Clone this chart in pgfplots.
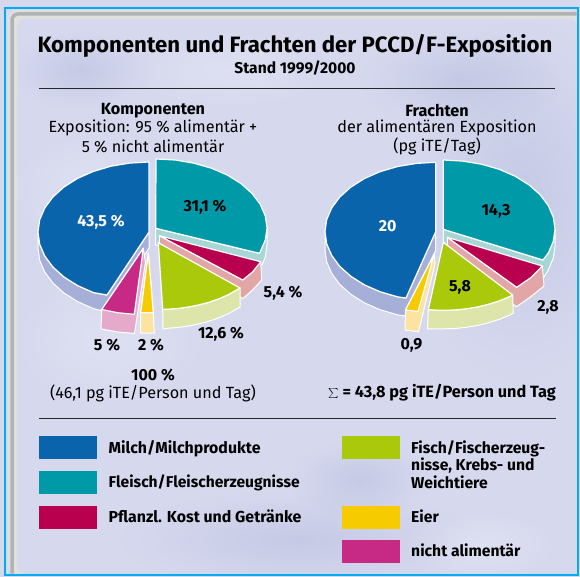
\documentclass[border=0pt]{standalone}
\usepackage{pgfplots}
\pgfplotsset{compat=1.18}
\usepackage{fontspec}
\setmainfont{Fira Sans}
\usetikzlibrary{fadings}
\tikzfading[name=soft,inner color=transparent!0,outer color=transparent!100]
\definecolor{cBlue}{HTML}{0A64AC}\definecolor{cTeal}{HTML}{0099A8}\definecolor{cCrim}{HTML}{B8004F}
\definecolor{cGreen}{HTML}{A9C90A}\definecolor{cYel}{HTML}{F6CB00}\definecolor{cMag}{HTML}{C62A85}
\definecolor{sBlue}{HTML}{A5AFD8}\definecolor{sTeal}{HTML}{A8D5D6}\definecolor{sCrim}{HTML}{E3A6A6}
\definecolor{sGreen}{HTML}{DDE5AA}\definecolor{sYel}{HTML}{FDE3A0}\definecolor{sMag}{HTML}{E5AAC9}
\definecolor{bg}{HTML}{D6D9EE}\definecolor{bgd}{HTML}{BFC3E2}\definecolor{bgl}{HTML}{E2E4F4}
\definecolor{edge}{HTML}{00AEEF}
\newcommand{\T}[4]{\node[anchor=center,inner sep=0pt,#1] at (axis cs:#2) {#3#4};}
\newcommand{\blob}[4]{\fill[#4,path fading=soft,fill opacity=.7] (axis cs:#1) ellipse [x radius=#2pt,y radius=#3pt];}
\newcommand{\fs}[1]{\fontsize{#1}{#1}\selectfont}
\begin{document}
\begin{tikzpicture}
\begin{axis}[scale only axis,width=580pt,height=577pt,xmin=0,xmax=580,ymin=0,ymax=577,y dir=reverse,
  axis lines=none,ticks=none,no markers,
  wedge/.style={draw=white,line width=1.2pt,line join=round,fill=#1},
  face/.style={draw=white,line width=1pt,line join=round,fill=#1}]
% background
\fill[bg] (axis cs:0,0) rectangle (axis cs:580,577);
% frame
\draw[edge,line width=2pt] (axis cs:5,8) rectangle (axis cs:577.5,574.5);
\fill[rounded corners=9pt,white!88!black] (axis cs:8,573.5)--(axis cs:8,10)--(axis cs:576.5,10)--(axis cs:576.5,30)--(axis cs:30,30)--(axis cs:30,573.5)--cycle;
\draw[rounded corners=6pt,white!70!black,line width=3.5pt] (axis cs:12,573.5)--(axis cs:12,14)--(axis cs:576.5,14);
\fill[rounded corners=7pt,bg] (axis cs:17.5,573.5)--(axis cs:17.5,19)--(axis cs:576.5,19)--(axis cs:576.5,573.5)--cycle;
\begin{scope}
\clip (axis cs:17.5,19) rectangle (axis cs:576.5,573.5);
\blob{520,200}{110}{180}{bgd}
\blob{80,70}{70}{40}{bgd}
\blob{110,340}{100}{70}{bgl}
\blob{300,540}{180}{50}{bgd}
\blob{360,480}{70}{40}{bgd}
\blob{90,190}{80}{60}{bgl}
\blob{230,70}{100}{40}{bgl}
\blob{460,80}{100}{50}{bgd}
\blob{480,545}{80}{35}{bgl}
\end{scope}
% rules
\draw[black!85,line width=.9pt] (axis cs:39,88) -- (axis cs:555,88);
\draw[black!85,line width=.9pt] (axis cs:39,418.5) -- (axis cs:555.5,418.5);
% ---- left pie ----
\addplot[face=sBlue] coordinates {(38,232)(39.7,244.2)(44.7,255.9)(52.9,267)(64,277)(77.6,285.6)(93.5,292.6)(107,295)(149,232)(149,248)(107,312)(93.5,308.6)(77.6,301.6)(64,293)(52.9,283)(44.7,271.9)(39.7,260.2)(38,248)} -- cycle;
\addplot[wedge=cBlue] coordinates {(149,232)(149,162)(129.7,163.1)(111,166.2)(93.5,171.4)(77.6,178.4)(64,187)(52.9,197)(44.7,208.1)(39.7,219.8)(38,232)(39.7,244.2)(44.7,255.9)(52.9,267)(64,277)(77.6,285.6)(93.5,292.6)(107,295)} -- cycle;
\addplot[face=sTeal] coordinates {(155.7,228.3)(259.3,253.3)(260.3,251.6)(265.3,240)(267,228)(267,245)(265.3,257)(262,265)(155.7,245)} -- cycle;
\addplot[wedge=cTeal] coordinates {(155.7,228.3)(156,159)(175.3,160)(194,163.2)(211.5,168.2)(227.4,175.1)(241,183.6)(252.1,193.5)(260.3,204.4)(265.3,216)(267,228)(265.3,240)(260.3,251.6)(259.3,253.3)} -- cycle;
\addplot[face=sCrim] coordinates {(159.3,235.7)(242.7,280)(252.5,272)(260.7,261.7)(261.7,280)(252.5,290)(243,298.5)(159.3,254)} -- cycle;
\addplot[wedge=cCrim] coordinates {(159.3,235.7)(260.7,261.7)(252.5,272)(242.7,280)} -- cycle;
\addplot[face=sGreen] coordinates {(162.7,309.4)(168.5,309.2)(178.5,308.4)(188.5,307)(198.5,305)(208.5,302.4)(218.5,299)(228.5,294.6)(240,288)(240,307)(228.5,313.6)(218.5,318)(208.5,321.4)(198.5,324)(188.5,326)(178.5,327.4)(168.5,328.2)(163,329)} -- cycle;
\addplot[wedge=cGreen] coordinates {(158.3,242.7)(240,288)(228.5,294.6)(218.5,299)(208.5,302.4)(198.5,305)(188.5,307)(178.5,308.4)(168.5,309.2)(162.7,309.4)} -- cycle;
\addplot[face=sMag] coordinates {(101.7,310)(101,329)(118,332)(134.5,333.5)(145.5,262)(143.3,248.3)} -- cycle;
\addplot[wedge=cMag] coordinates {(143.3,248.3)(101.7,309.5)(118,312.8)(134.3,314.3)} -- cycle;
\addplot[face=sYel] coordinates {(148.3,253)(153.3,312.7)(154.3,333)(140.5,333)(140.7,312.7)} -- cycle;
\addplot[wedge=cYel] coordinates {(148.3,253)(140.7,312.7)(153.3,312.7)} -- cycle;
% ---- right pie ----
\addplot[face=sBlue] coordinates {(325,231.7)(326.7,243.8)(331.7,255.4)(339.8,266.4)(350.9,276.3)(364.5,284.9)(380.3,291.8)(397.8,296.9)(406,298)(435.7,231.7)(435.7,250)(406,316)(397.8,314.9)(380.3,309.8)(364.5,302.9)(350.9,294.3)(339.8,284.4)(331.7,273.4)(326.7,261.8)(325,249.7)} -- cycle;
\addplot[wedge=cBlue] coordinates {(435.7,231.7)(435.7,162.3)(416.5,163.4)(397.8,166.5)(380.3,171.6)(364.5,178.5)(350.9,187.1)(339.8,197)(331.7,208)(326.7,219.6)(325,231.7)(326.7,243.8)(331.7,255.4)(339.8,266.4)(350.9,276.3)(364.5,284.9)(380.3,291.8)(397.8,296.9)(406,298)} -- cycle;
\addplot[face=sTeal] coordinates {(443.3,229.3)(542.5,260)(548.3,253)(553.3,241.3)(555,229.3)(555,246.5)(553.3,258)(548.3,270)(544,277)(443.3,247)} -- cycle;
\addplot[wedge=cTeal] coordinates {(443.3,229.3)(443.3,160)(462.7,161.1)(481.5,164.2)(499.2,169.3)(515.1,176.2)(528.9,184.8)(540,194.6)(548.3,205.6)(553.3,217.3)(555,229.3)(553.3,241.3)(548.3,253)(543,260)} -- cycle;
\addplot[face=sCrim] coordinates {(447.3,237.3)(516.7,287.3)(531,277.5)(542.3,266)(544,286)(531,296.5)(516.5,306.7)(447.3,255)} -- cycle;
\addplot[wedge=cCrim] coordinates {(447.3,237.3)(542.3,266)(531,277.5)(516.7,287.3)} -- cycle;
\addplot[face=sGreen] coordinates {(428.3,309.7)(438.3,310.2)(448.3,310.2)(458.3,309.7)(468.3,308.5)(478.3,306.8)(488.3,304.3)(498.3,301.2)(508.3,297.2)(512.7,295)(513.3,313.3)(508.3,315.7)(498.3,319.7)(488.3,322.8)(478.3,325.3)(468.3,327)(458.3,328.2)(448.3,328.7)(438.3,328.9)(427.5,329)} -- cycle;
\addplot[wedge=cGreen] coordinates {(443.3,242.3)(512.7,295)(508.3,297.2)(498.3,301.2)(488.3,304.3)(478.3,306.8)(468.3,308.5)(458.3,309.7)(448.3,310.2)(438.3,310.2)(428.3,309.7)} -- cycle;
\addplot[face=sYel] coordinates {(434.3,254)(435,264)(418.5,331.7)(405,330)(405.5,310)} -- cycle;
\addplot[wedge=cYel] coordinates {(434.3,254)(405.5,310)(418,311.5)} -- cycle;
% ---- legend ----
\fill[cBlue] (axis cs:39,436) rectangle (axis cs:97,459);
\fill[cTeal] (axis cs:39,471) rectangle (axis cs:97,494);
\fill[cCrim] (axis cs:39,506) rectangle (axis cs:97,529);
\fill[cGreen] (axis cs:341.5,436) rectangle (axis cs:399.5,459);
\fill[cYel] (axis cs:341.5,506) rectangle (axis cs:399.5,529);
\fill[cMag] (axis cs:341.5,540) rectangle (axis cs:399.5,563);
% ---- text ----
\T{}{295,46}{\fs{22.2}\bfseries}{Komponenten und Frachten der PCCD/F-Exposition}
\T{}{295,68.5}{\fs{15.6}\bfseries}{Stand 1999/2000}
\T{}{153,111}{\fs{16.2}\bfseries}{Komponenten}
\T{}{153,128}{\fs{16.2}}{Exposition: 95 \% alimentär +}
\T{}{153,146}{\fs{16.2}}{5 \% nicht alimentär}
\T{}{437,110.5}{\fs{16.2}\bfseries}{Frachten}
\T{}{437,128}{\fs{16.2}}{der alimentären Exposition}
\T{}{437,146}{\fs{16.2}}{(pg iTE/Tag)}
\T{text=white}{101,222.5}{\fs{16}\bfseries}{43,5 \%}
\T{}{205,207}{\fs{16}\bfseries}{31,1 \%}
\T{}{283,293.5}{\fs{16}\bfseries}{5,4 \%}
\T{}{221,334.5}{\fs{16}\bfseries}{12,6 \%}
\T{}{107,345.5}{\fs{16}\bfseries}{5 \%}
\T{}{151,345.5}{\fs{16}\bfseries}{2 \%}
\T{}{153,375.5}{\fs{16}\bfseries}{100 \%}
\T{}{153,393.5}{\fs{16.2}}{(46,1 pg iTE/Person und Tag)}
\T{text=white}{387.7,226.5}{\fs{16}\bfseries}{20}
\T{}{496,211}{\fs{16}\bfseries}{14,3}
\T{}{460,287}{\fs{16}\bfseries}{5,8}
\T{}{548,307.5}{\fs{16}\bfseries}{2,8}
\T{}{411.5,345.5}{\fs{16}\bfseries}{0,9}
\T{}{442,392.5}{\fs{16.3}\bfseries}{$\sum$ = 43,8 pg iTE/Person und Tag}
\T{anchor=west}{108.5,449}{\fs{15.9}\bfseries}{Milch/Milchprodukte}
\T{anchor=west}{108.5,482.5}{\fs{15.6}\bfseries}{Fleisch/Fleischerzeugnisse}
\T{anchor=west}{108.5,516.5}{\fs{15.9}\bfseries}{Pflanzl. Kost und Getränke}
\T{anchor=west}{411,448.5}{\fs{15.7}\bfseries}{Fisch/Fischerzeug-}
\T{anchor=west}{411,465.5}{\fs{15.7}\bfseries}{nisse, Krebs- und}
\T{anchor=west}{411,482.5}{\fs{15.7}\bfseries}{Weichtiere}
\T{anchor=west}{411,516.5}{\fs{15.7}\bfseries}{Eier}
\T{anchor=west}{411,550}{\fs{15.7}\bfseries}{nicht alimentär}
\end{axis}
\end{tikzpicture}
\end{document}
